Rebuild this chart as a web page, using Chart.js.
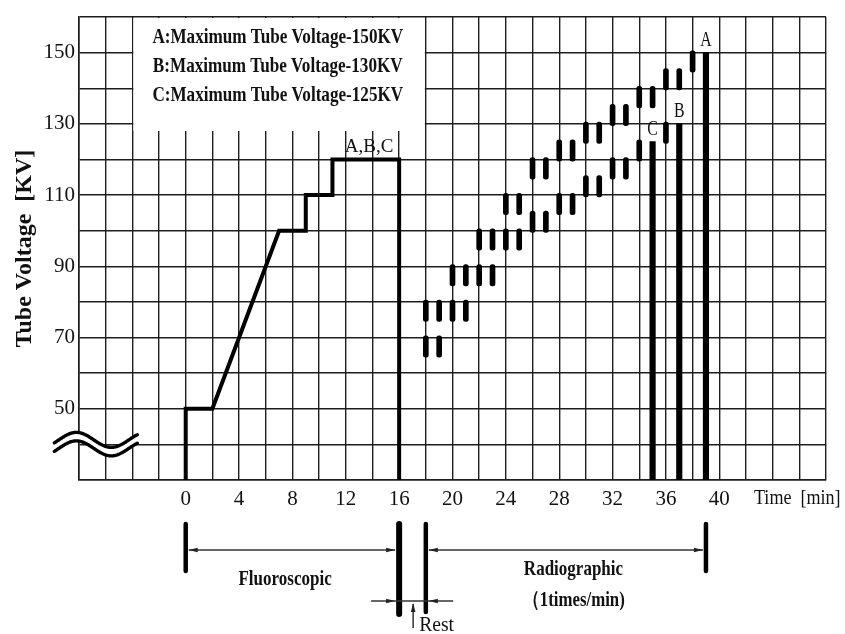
<!DOCTYPE html>
<html>
<head>
<meta charset="utf-8">
<script src="https://cdn.jsdelivr.net/npm/chart.js@4.4.1/dist/chart.umd.min.js"></script>
<style>
  html, body { margin: 0; padding: 0; background: #fff; }
  #wrap { width: 845px; height: 634px; }
</style>
</head>
<body>
<div id="wrap"><canvas id="kvChart" width="845" height="634"></canvas></div>
<script>
// fluoroscopic ramp: time [min] and tube voltage [KV]
const fluoroTime = [0, 0, 2, 7, 9, 9, 11, 11, 16, 16];
const fluoroKV   = [30, 50, 50, 100, 100, 110, 110, 120, 120, 30];

// radiographic exposures (1 per minute), KV at the top of each pulse
const pulseTime = [18, 19, 20, 21, 22, 23, 24, 25, 26, 27, 28, 29, 30, 31, 32, 33, 34, 35, 36, 37, 38];
const upperKV   = [80, 80, 90, 90, 100, 100, 110, 110, 120, 120, 125, 125, 130, 130, 135, 135, 140, 140, 145, 145, 150];
const lowerKV   = [70, 70, 80, 80, 90, 90, 100, 100, 105, 105, 110, 110, 115, 115, 120, 120, 125, null, 130, null, null];

// last exposure at maximum tube voltage
const maxLabels = ['C', 'B', 'A'];
const maxTime   = [35, 37, 39];
const maxKV     = [125, 130, 150];

const legendLines = [
    'A:Maximum Tube Voltage-150KV',
    'B:Maximum Tube Voltage-130KV',
    'C:Maximum Tube Voltage-125KV'
];

// phase limits for the timeline under the chart
const fluoroPhase = [0, 16];
const radioPhase  = [18, 39];

const serif = '"Liberation Serif", "Times New Roman", serif';
const gridColor = '#1e1e1e';
const PULSE_LEN = 6;

function pulseBars(tops) {
    const out = [];
    tops.forEach(function(kv, i) {
        if (kv === null) return;
        out.push({ x: pulseTime[i], y: [kv - PULSE_LEN + 0.5, kv + 0.5] });
    });
    return out;
}

function squeezeText(ctx, text, x, y, font, sx, align) {
    ctx.save();
    ctx.font = font;
    ctx.fillStyle = '#111';
    ctx.textAlign = align || 'center';
    ctx.textBaseline = 'middle';
    ctx.translate(x, y);
    ctx.scale(sx, 1);
    ctx.fillText(text, 0, 0);
    ctx.restore();
}

function arrowHead(ctx, x, y, dx, dy) {
    // tip at (x, y), pointing along (dx, dy)
    const len = 9, half = 2.3;
    ctx.beginPath();
    ctx.moveTo(x, y);
    ctx.lineTo(x - dx * len - dy * half, y - dy * len + dx * half);
    ctx.lineTo(x - dx * len + dy * half, y - dy * len - dx * half);
    ctx.closePath();
    ctx.fill();
}

function hLine(ctx, x1, x2, y) {
    ctx.beginPath();
    ctx.moveTo(x1, y);
    ctx.lineTo(x2, y);
    ctx.stroke();
}

function markerBar(ctx, x, y1, y2, w) {
    ctx.save();
    ctx.lineCap = 'round';
    ctx.lineWidth = w;
    ctx.beginPath();
    ctx.moveTo(x, y1);
    ctx.lineTo(x, y2);
    ctx.stroke();
    ctx.restore();
}

const decorPlugin = {
    id: 'decor',
    beforeDatasetsDraw(chart) {
        const ctx = chart.ctx, xs = chart.scales.x, ys = chart.scales.y;
        // white legend box over the grid
        const l = xs.getPixelForValue(-4) + 1, r = xs.getPixelForValue(18) - 1;
        const t = ys.getPixelForValue(160) + 1, b = ys.getPixelForValue(128);
        ctx.save();
        ctx.fillStyle = '#fff';
        ctx.fillRect(l, t, r - l, b - t);
        ctx.restore();
        const ly = [154.3, 146.2, 137.8];
        legendLines.forEach(function(txt, i) {
            squeezeText(ctx, txt, xs.getPixelForValue(6.9), ys.getPixelForValue(ly[i]),
                'bold 21px ' + serif, 0.815);
        });
    },
    afterDatasetsDraw(chart) {
        const ctx = chart.ctx, xs = chart.scales.x, ys = chart.scales.y;
        squeezeText(ctx, 'A,B,C', xs.getPixelForValue(13.75), ys.getPixelForValue(123.6), '19px ' + serif, 1);
        maxLabels.forEach(function(lab, i) {
            squeezeText(ctx, lab, xs.getPixelForValue(maxTime[i]), ys.getPixelForValue(maxKV[i] + 3.6),
                '22px ' + serif, 0.72);
        });
    },
    afterDraw(chart) {
        const ctx = chart.ctx, xs = chart.scales.x, ys = chart.scales.y;
        const px = v => xs.getPixelForValue(v);
        const yb = chart.chartArea.bottom;

        // axis break symbol
        const cx = px(-8.2), cy = ys.getPixelForValue(40) - 4.5;
        const wave = function(off) {
            ctx.beginPath();
            for (let d = -22; d <= 61; d += 1) {
                const yy = cy + off - 7.5 * Math.cos(Math.PI * d / 35);
                if (d === -22) ctx.moveTo(cx + d, yy); else ctx.lineTo(cx + d, yy);
            }
            ctx.stroke();
        };
        ctx.save();
        ctx.lineCap = 'round';
        ctx.strokeStyle = '#fff';
        ctx.lineWidth = 10;
        wave(4.25);
        ctx.strokeStyle = '#000';
        ctx.lineWidth = 3.4;
        wave(0);
        wave(8.5);
        ctx.restore();

        squeezeText(ctx, 'Time  [min]', px(42.6), yb + 18, '21px ' + serif, 0.86, 'left');

        // timeline of the phases
        ctx.save();
        ctx.strokeStyle = '#000';
        ctx.fillStyle = '#222';
        markerBar(ctx, px(fluoroPhase[0]), yb + 44, yb + 91, 4.5);
        markerBar(ctx, px(fluoroPhase[1]), yb + 44, yb + 134, 6);
        markerBar(ctx, px(radioPhase[0]), yb + 44, yb + 132, 4.5);
        markerBar(ctx, px(radioPhase[1]), yb + 44, yb + 91, 4.5);

        ctx.strokeStyle = '#333';
        ctx.lineWidth = 1.5;
        const ay = yb + 70;
        hLine(ctx, px(fluoroPhase[0]) + 3, px(fluoroPhase[1]) - 4, ay);
        arrowHead(ctx, px(fluoroPhase[0]) + 3, ay, -1, 0);
        arrowHead(ctx, px(fluoroPhase[1]) - 4, ay, 1, 0);
        hLine(ctx, px(radioPhase[0]) + 3, px(radioPhase[1]) - 3, ay);
        arrowHead(ctx, px(radioPhase[0]) + 3, ay, -1, 0);
        arrowHead(ctx, px(radioPhase[1]) - 3, ay, 1, 0);

        // rest interval
        const ry = yb + 121;
        hLine(ctx, px(13.9), px(20.05), ry);
        arrowHead(ctx, px(fluoroPhase[1]) - 4, ry, 1, 0);
        arrowHead(ctx, px(radioPhase[0]) + 3, ry, -1, 0);
        ctx.beginPath();
        ctx.moveTo(px(17.05), yb + 148);
        ctx.lineTo(px(17.05), ry + 3);
        ctx.stroke();
        arrowHead(ctx, px(17.05), ry + 2, 0, -1);
        ctx.restore();

        squeezeText(ctx, 'Fluoroscopic', px(7.45), yb + 100, 'bold 21px ' + serif, 0.81);
        squeezeText(ctx, 'Radiographic', px(29.07), yb + 90, 'bold 21px ' + serif, 0.81);
        squeezeText(ctx, '（1times/min)', px(29.1), yb + 121, 'bold 21px ' + serif, 0.8);
        squeezeText(ctx, 'Rest', px(17.5), yb + 146, '20px ' + serif, 0.98, 'left');
    }
};

const canvas = document.getElementById('kvChart');
new Chart(canvas.getContext('2d'), {
    type: 'bar',
    data: {
        datasets: [{
            type: 'line',
            label: 'Fluoroscopic',
            data: fluoroTime.map((t, i) => ({ x: t, y: fluoroKV[i] })),
            borderColor: '#000',
            borderWidth: 4,
            pointRadius: 0,
            tension: 0,
            fill: false
        }, {
            label: 'Pulse upper',
            data: pulseBars(upperKV),
            backgroundColor: '#000',
            barThickness: 5,
            borderRadius: 2.5,
            borderSkipped: false,
            grouped: false
        }, {
            label: 'Pulse lower',
            data: pulseBars(lowerKV),
            backgroundColor: '#000',
            barThickness: 5,
            borderRadius: 2.5,
            borderSkipped: false,
            grouped: false
        }, {
            label: 'Max voltage',
            data: maxTime.map((t, i) => ({ x: t, y: [30, maxKV[i]] })),
            backgroundColor: '#000',
            barThickness: 5.5,
            borderSkipped: false,
            grouped: false
        }]
    },
    options: {
        responsive: false,
        animation: false,
        layout: { padding: { top: 17, right: 19, left: 0, bottom: 0 } },
        plugins: {
            legend: { display: false },
            tooltip: { enabled: false }
        },
        scales: {
            x: {
                type: 'linear',
                min: -8,
                max: 48,
                offset: false,
                grid: { color: gridColor, lineWidth: 1.4, drawTicks: false, offset: false },
                border: { color: gridColor, width: 1.6 },
                ticks: {
                    stepSize: 2,
                    autoSkip: false,
                    maxRotation: 0,
                    padding: 7,
                    color: '#111',
                    font: { family: serif, size: 21 },
                    callback: v => (v >= 0 && v <= 40 && v % 4 === 0) ? v : ''
                },
                afterFit: s => { s.height = 154; }
            },
            y: {
                min: 30,
                max: 160,
                grid: { color: gridColor, lineWidth: 1.4, drawTicks: false },
                border: { color: gridColor, width: 1.6 },
                ticks: {
                    stepSize: 10,
                    autoSkip: false,
                    padding: 4,
                    color: '#111',
                    font: { family: serif, size: 21 },
                    callback: v => (v >= 50 && v % 20 === 10) ? v : ''
                },
                title: {
                    display: true,
                    text: 'Tube Voltage  [KV]',
                    color: '#111',
                    font: { family: serif, size: 24, weight: 'bold' },
                    padding: { top: 10, bottom: 0 }
                },
                afterFit: s => { s.width = 79; }
            }
        }
    },
    plugins: [decorPlugin]
});
</script>
</body>
</html>
